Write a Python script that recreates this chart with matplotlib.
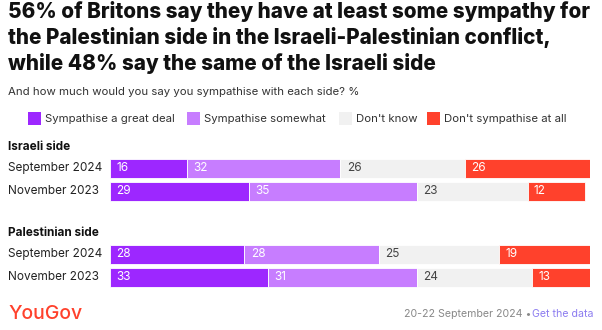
import matplotlib
matplotlib.use("Agg")
import matplotlib.pyplot as plt

plt.rcParams["font.family"] = ["Inter", "DejaVu Sans"]

W, H = 602, 330

# survey results (%), in legend order
categories = ["Sympathise a great deal", "Sympathise somewhat",
              "Don't know", "Don't sympathise at all"]
waves = ["September 2024", "November 2023"]
israeli = [[16, 32, 26, 26], [29, 35, 23, 12]]
palestinian = [[28, 28, 25, 19], [33, 31, 24, 13]]
groups = [("Israeli side", israeli), ("Palestinian side", palestinian)]

colors = ["#9d27ff", "#c77dff", "#f1f1f1", "#ff412c"]
text_colors = ["white", "white", "#444444", "white"]

title = ("56% of Britons say they have at least some sympathy for\n"
         "the Palestinian side in the Israeli-Palestinian conflict,\n"
         "while 48% say the same of the Israeli side")
subtitle = "And how much would you say you sympathise with each side? %"

fig = plt.figure(figsize=(W / 100, H / 100), dpi=100)


def fx(px):
    return px / W


def fy(py):
    return 1 - py / H


fig.text(fx(8), fy(1), title, fontsize=14.9, fontweight=800,
         va="top", ha="left", color="#111111", linespacing=1.3)
fig.text(fx(8), fy(92), subtitle, fontsize=8.2, va="center", color="#333333")

# legend
leg_x = [28, 187, 339, 427]
for x, cat, col in zip(leg_x, categories, colors):
    fig.patches.append(plt.Rectangle((fx(x), fy(125)), 13 / W, 13 / H,
                                     transform=fig.transFigure,
                                     facecolor=col, edgecolor="none"))
    fig.text(fx(x + 17), fy(119), cat, fontsize=8.2, va="center",
             color="#333333")

# bar panels
pitch = 23
bar_h = 19 / pitch
tops = [156.5, 242.5]
for (name, rows), top in zip(groups, tops):
    fig.text(fx(8), fy(top - 10), name, fontsize=8.5, fontweight="bold",
             va="center", color="#111111")
    ax = fig.add_axes([fx(110), fy(top + 2 * pitch), 480 / W, 2 * pitch / H])
    ax.set_xlim(0, 100)
    ax.set_ylim(1.5, -0.5)
    ax.axis("off")
    for i, (wave, vals) in enumerate(zip(waves, rows)):
        left = 0
        for v, col, tc in zip(vals, colors, text_colors):
            ax.barh(i, v, left=left, height=bar_h, color=col,
                    edgecolor="white", linewidth=0.6)
            ax.text(left + 1.3, i, str(v), color=tc, fontsize=8.5,
                    va="center", ha="left")
            left += v
        fig.text(fx(8), fy(top + (i + 0.5) * pitch), wave, fontsize=8.5,
                 va="center", color="#222222")

# footer
fig.text(fx(8), fy(314), "YouGov", fontsize=14, fontweight=500,
         color="#ff412c", va="center", ha="left")
fig.text(fx(594), fy(314), "Get the data", fontsize=7.6, color="#8c7cf0",
         va="center", ha="right")
fig.text(fx(594 - 60), fy(314), "20-22 September 2024 \u2022 ", fontsize=7.6,
         color="#888888", va="center", ha="right")

fig.savefig("out.png", dpi=100)
